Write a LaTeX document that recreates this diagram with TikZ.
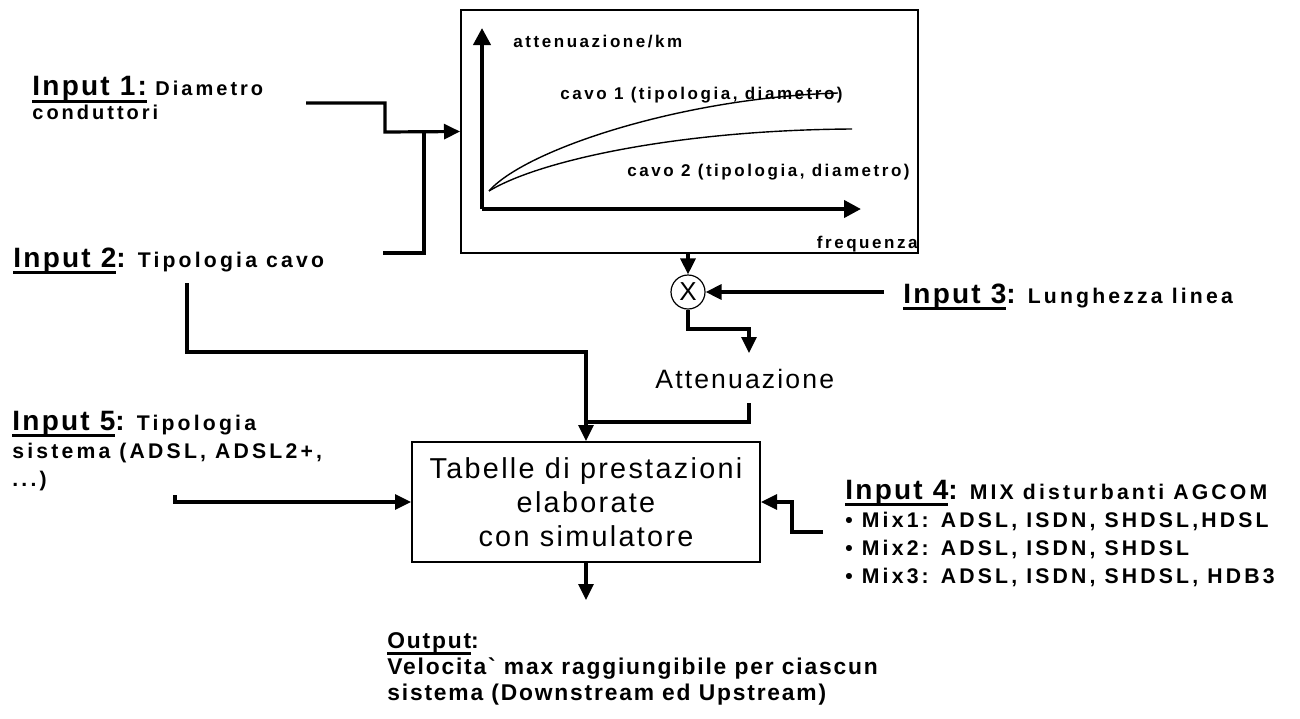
\documentclass[tikz,border=0pt]{standalone}
\usepackage{fontspec}
\setmainfont{Liberation Sans}[Ligatures=TeXOff]
\newfontfamily\widefam{Liberation Sans}[LetterSpace=15,Ligatures=TeXOff]
\newfontfamily\narrowfam{Liberation Sans}[LetterSpace=8,Ligatures=TeXOff]
\usetikzlibrary{arrows.meta, positioning}
\tikzset{
  flow/.style={line width=1.6pt, -{Triangle[length=8pt,width=7.5pt]}},
  wire/.style={line width=1.6pt},
  axis/.style={line width=2pt, -{Triangle[length=8.5pt,width=8.5pt]}},
  curve/.style={line width=0.7pt},
  block/.style={draw, line width=1pt, rectangle, inner sep=0pt},
  lbl/.style={inner sep=0pt, align=left, anchor=base west, font=\dsc},
  plotlbl/.style={inner sep=0pt, anchor=base west, font=\widefam\bfseries\fontsize{8.5}{10}\selectfont},
}
\newcommand{\ttl}{\narrowfam\bfseries\fontsize{14}{16}\selectfont}
\newcommand{\dsc}{\widefam\bfseries\fontsize{10.6}{14}\selectfont}
\newcommand{\dscsmall}{\widefam\bfseries\fontsize{10}{10}\selectfont}
\newcommand{\ulin}[1]{\setbox0\hbox{#1}\rlap{\rule[-3.4pt]{\wd0}{1.4pt}}\box0\relax}

\begin{document}
\begin{tikzpicture}[x=0.5pt,y=-0.5pt]
  \useasboundingbox (0,0) rectangle (1300,718);

  % attenuation curves
  \node[block, minimum width=228.5pt, minimum height=121.5pt] (graph) at (689.5,131.5) {};
  \coordinate (origin) at (482,209);
  \draw[axis] (origin) -- (482,28);
  \draw[axis] (origin) -- (861,209);
  \draw[curve] (489,191) .. controls (525,150) and (680,98) .. (838,93);
  \draw[curve] (489,191) .. controls (540,160) and (680,130) .. (852,129);
  \node[plotlbl] (ylab) at (513,47) {attenuazione/km};
  \node[plotlbl] (cavo1) at (560,99) {cavo 1 (tipologia, diametro)};
  \node[plotlbl] (cavo2) at (627,176) {cavo 2 (tipologia, diametro)};
  \node[plotlbl, anchor=base east] (xlab) at (918,248) {frequenza};

  % inputs (base = last line)
  \node[lbl, font=\dscsmall] (in1) at (32,119) {\ulin{\ttl Input 1:} Diametro\\conduttori};
  \node[lbl] (in2) at (13,267) {\ulin{\ttl Input 2}{\ttl:} Tipologia cavo};
  \node[lbl] (in3) at (903,303) {\ulin{\ttl Input 3}{\ttl:} Lunghezza linea};
  \node[lbl] (in4) at (845,583) {\ulin{\ttl Input 4}{\ttl:} MIX disturbanti AGCOM\\%
    • Mix1: ADSL, ISDN, SHDSL,HDSL\\• Mix2: ADSL, ISDN, SHDSL\\• Mix3: ADSL, ISDN, SHDSL, HDB3};
  \node[lbl] (in5) at (12,486) {\ulin{\ttl Input 5}{\ttl:} Tipologia\\sistema (ADSL, ADSL2+,\\...)};

  \node[circle, draw, line width=0.6pt, minimum size=17pt, inner sep=0pt,
        font=\fontsize{13}{13}\selectfont] (mul) at (688,292) {X};
  \node[inner sep=0pt, anchor=base west, font=\narrowfam\fontsize{13.3}{15}\selectfont] (att) at (655,388) {Attenuazione};

  \node[block, minimum width=174pt, minimum height=60pt, align=center,
        font=\narrowfam\fontsize{14.4}{17}\selectfont] (tab) at (586,502)
        {Tabelle di prestazioni\\elaborate\\con simulatore};

  \node[inner sep=0pt, align=left, anchor=base west,
        font=\narrowfam\bfseries\fontsize{11.4}{13}\selectfont] (out) at (387,700)
        {\ulin{Output}:\\Velocita` max raggiungibile per ciascun\\sistema (Downstream ed Upstream)};

  % connectors
  \coordinate (in1end) at (306,103);
  \coordinate (in2end) at (383,253);
  \coordinate (in2down) at (187,283);
  \coordinate (in3end) at (884,292);
  \coordinate (in4end) at (823,532);
  \coordinate (in5end) at (175,495);
  \coordinate (attin) at (749,353);
  \coordinate (attout) at (749,403);
  \coordinate (outtip) at (586,600);

  \draw[flow] (in1end) -| (385,132) -- (graph.west);
  \draw[wire] (in2end) -| (424,132);
  \draw[flow] (in2down) -- (187,352) -| (tab.north);
  \draw[flow] (graph.south -| mul) -- (mul.north);
  \draw[flow] (in3end) -- (mul.east);
  \draw[flow] (mul.south) |- (749,329) -- (attin);
  \draw[wire] (attout) |- (586,422);
  \draw[flow] (in5end) |- (tab.west);
  \draw[flow] (in4end) -| (792,502) -- (tab.east);
  \draw[flow] (tab.south) -- (outtip);
\end{tikzpicture}
\end{document}
